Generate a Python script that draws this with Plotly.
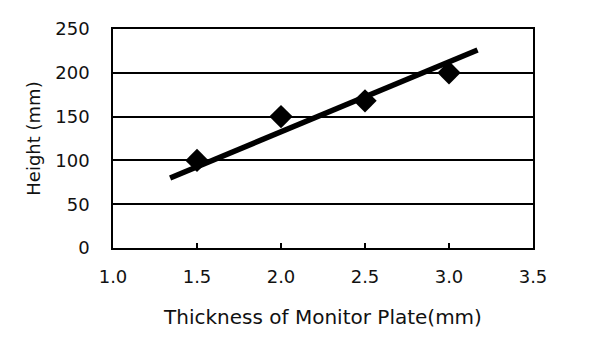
import plotly.graph_objects as go

# Measured points
thickness = [1.5, 2.0, 2.5, 3.0]
height = [100, 150, 168, 200]

# Trend line end points
trend_x = [1.34, 3.17]
trend_y = [80, 226]

x_ticks = [1.0, 1.5, 2.0, 2.5, 3.0, 3.5]
x_tick_text = ["1.0", "1.5", "2.0", "2.5", "3.0", "3.5"]
y_ticks = [0, 50, 100, 150, 200, 250]

font_family = "DejaVu Sans"

fig = go.Figure()
fig.add_trace(go.Scatter(
    x=trend_x, y=trend_y, mode="lines",
    line=dict(color="black", width=5.5), showlegend=False,
))
fig.add_trace(go.Scatter(
    x=thickness, y=height, mode="markers",
    marker=dict(symbol="diamond", size=18, color="black"),
    showlegend=False,
))

fig.update_layout(
    width=600, height=339,
    margin=dict(l=113, r=67, t=29, b=91),
    paper_bgcolor="white", plot_bgcolor="white",
    font=dict(family=font_family, size=18, color="#111"),
    xaxis=dict(
        range=[1.0, 3.5], tickvals=x_ticks, ticktext=x_tick_text,
        showgrid=False, zeroline=False,
        showline=True, linecolor="black", linewidth=1.5, mirror=True,
        ticks="inside", ticklen=5, tickcolor="black", tickwidth=1.5,
        ticklabelstandoff=12, tickfont=dict(size=18),
        title=dict(text="Thickness of Monitor Plate(mm)", font=dict(size=20), standoff=24),
    ),
    yaxis=dict(
        range=[0, 250], tickvals=y_ticks,
        showgrid=True, gridcolor="black", gridwidth=1.5, zeroline=False,
        showline=True, linecolor="black", linewidth=1.5, mirror=True,
        ticks="", ticklabelstandoff=18, tickfont=dict(size=18),
        title=dict(text="Height (mm)", font=dict(size=18), standoff=10),
    ),
)

fig.write_html("out.html")
